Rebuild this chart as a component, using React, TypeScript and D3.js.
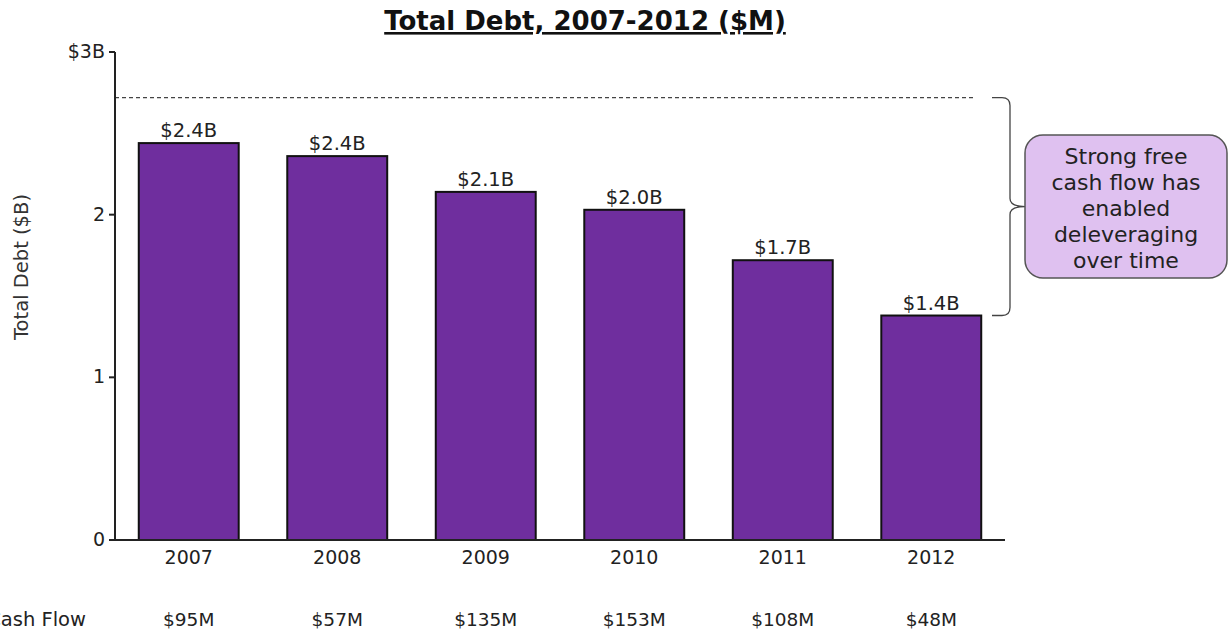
import React from "react";
import * as d3 from "d3";

const years = ["2007", "2008", "2009", "2010", "2011", "2012"];
const debt = [2.44, 2.36, 2.14, 2.03, 1.72, 1.38];
const debtLabels = ["$2.4B", "$2.4B", "$2.1B", "$2.0B", "$1.7B", "$1.4B"];
const cashFlow = ["$95M", "$57M", "$135M", "$153M", "$108M", "$48M"];
const yTicks = [0, 1, 2, 3];
const yTickLabels = ["0", "1", "2", "$3B"];
const peakLine = 2.72;
const noteLines = ["Strong free", "cash flow has", "enabled", "deleveraging", "over time"];

const W = 1228;
const H = 635;
const FONT = "'DejaVu Sans', Verdana, sans-serif";

export default function App() {
  const x0 = 115;
  const x1 = 1005;
  const y = d3.scaleLinear().domain([0, 3]).range([540, 52]);
  const x = d3
    .scaleBand<string>()
    .domain(years)
    .range([x0, x1])
    .paddingInner(0.327)
    .paddingOuter(0.16);

  const bTop = y(peakLine);
  const bBot = y(debt[debt.length - 1]);
  const bMid = (bTop + bBot) / 2;
  const bx = 1010;
  const r = 8;
  const bracket = `M ${bx - 18} ${bTop} L ${bx - r} ${bTop} Q ${bx} ${bTop} ${bx} ${bTop + r} L ${bx} ${bMid - r} Q ${bx} ${bMid} ${bx + 15} ${bMid} Q ${bx} ${bMid} ${bx} ${bMid + r} L ${bx} ${bBot - r} Q ${bx} ${bBot} ${bx - r} ${bBot} L ${bx - 18} ${bBot}`;

  return (
    <svg width={W} height={H} style={{ position: "absolute", left: 0, top: 0 }}>
      <rect width={W} height={H} fill="#ffffff" />
      <text
        x={585}
        y={30}
        textAnchor="middle"
        fontFamily={FONT}
        fontWeight="bold"
        fontSize={26}
        textDecoration="underline"
        fill="#111"
      >
        Total Debt, 2007-2012 ($M)
      </text>

      {/* y axis title */}
      <text
        transform={`translate(28, 267) rotate(-90)`}
        textAnchor="middle"
        fontFamily={FONT}
        fontSize={19.5}
        fill="#333"
      >
        Total Debt ($B)
      </text>

      {/* dashed peak line */}
      <line
        x1={x0}
        x2={975}
        y1={y(peakLine)}
        y2={y(peakLine)}
        stroke="#444"
        strokeWidth={1.3}
        strokeDasharray="4,3"
      />

      {/* bars */}
      {years.map((yr, i) => (
        <g key={yr}>
          <rect
            x={x(yr)}
            y={y(debt[i])}
            width={x.bandwidth()}
            height={y(0) - y(debt[i])}
            fill="#6f2e9e"
            stroke="#111"
            strokeWidth={2}
          />
          <text
            x={(x(yr) as number) + x.bandwidth() / 2}
            y={y(debt[i]) - 6}
            textAnchor="middle"
            fontFamily={FONT}
            fontSize={19.5}
            fill="#222"
          >
            {debtLabels[i]}
          </text>
          <text
            x={(x(yr) as number) + x.bandwidth() / 2}
            y={y(0) + 24}
            textAnchor="middle"
            fontFamily={FONT}
            fontSize={19}
            fill="#222"
          >
            {yr}
          </text>
          <text
            x={(x(yr) as number) + x.bandwidth() / 2}
            y={626}
            textAnchor="middle"
            fontFamily={FONT}
            fontSize={18.5}
            fill="#222"
          >
            {cashFlow[i]}
          </text>
        </g>
      ))}

      <text x={86} y={626} textAnchor="end" fontFamily={FONT} fontSize={19.5} fill="#222">
        Free Cash Flow
      </text>

      {/* axes */}
      <line x1={x0} x2={x0} y1={y(3)} y2={y(0)} stroke="#222" strokeWidth={2} />
      <line x1={x0} x2={x1} y1={y(0)} y2={y(0)} stroke="#222" strokeWidth={2} />
      {yTicks.map((t, i) => (
        <g key={t}>
          <line x1={x0 - 6} x2={x0} y1={y(t)} y2={y(t)} stroke="#222" strokeWidth={2} />
          <text
            x={x0 - 10}
            y={y(t) + 6}
            textAnchor="end"
            fontFamily={FONT}
            fontSize={19}
            fill="#222"
          >
            {yTickLabels[i]}
          </text>
        </g>
      ))}

      {/* bracket */}
      <path d={bracket} fill="none" stroke="#444" strokeWidth={1.3} />

      {/* note box */}
      <rect
        x={1025}
        y={135}
        width={202}
        height={143}
        rx={18}
        ry={18}
        fill="#dfc1f0"
        stroke="#555"
        strokeWidth={1.5}
      />
      {noteLines.map((l, i) => (
        <text
          key={i}
          x={1126}
          y={164 + i * 26}
          textAnchor="middle"
          fontFamily={FONT}
          fontSize={22}
          fill="#222"
        >
          {l}
        </text>
      ))}
    </svg>
  );
}
